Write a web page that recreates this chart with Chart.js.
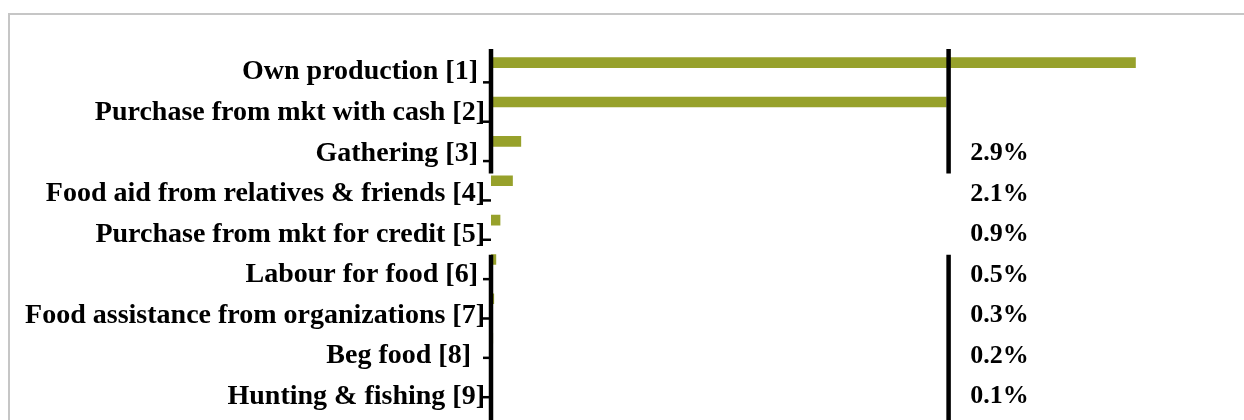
<!DOCTYPE html>
<html>
<head>
<meta charset="utf-8">
<script src="https://cdn.jsdelivr.net/npm/chart.js@4.4.1/dist/chart.umd.min.js"></script>
<style>
  html, body { margin: 0; padding: 0; background: #ffffff; overflow: hidden; }
  #frame { position: absolute; left: 8px; top: 13px; width: 1400px; height: 600px;
           border: 2px solid #c6c6c6; box-sizing: border-box; }
  #wrap { position: absolute; left: 0; top: 0; width: 1244px; height: 420px; }
</style>
</head>
<body>
<div id="frame"></div>
<div id="wrap"><canvas id="c"></canvas></div>
<script>
// ---- data ----
const categories = [
  'Own production [1] ',
  'Purchase from mkt with cash [2]',
  'Gathering [3] ',
  'Food aid from relatives & friends [4]',
  'Purchase from mkt for credit [5]',
  'Labour for food [6] ',
  'Food assistance from organizations [7]',
  'Beg food [8]  ',
  'Hunting & fishing [9]'
];
const shares = [62.0, 43.8, 2.9, 2.1, 0.9, 0.5, 0.3, 0.2, 0.1];
const valueLabels = [null, null, '2.9%', '2.1%', '0.9%', '0.5%', '0.3%', '0.2%', '0.1%'];
const refLineValue = 44;      // second vertical rule (value-axis units)
const brokenRows = [3, 4];    // rows where the vertical rules are interrupted
const valueLabelAt = 48.9;    // where the % labels sit on the value axis
const axisMax = 70;
// label row axis range (label rows are spaced slightly wider than the bars)
const labelAxisMin = -0.72, labelAxisMax = 8.012;

// ---- styles ----
const barColor = '#97a12b';
const labelFont = { family: "'Liberation Serif', 'Times New Roman', serif", size: 28, weight: 'bold' };
const valueFont = "bold 26px 'Liberation Serif', 'Times New Roman', serif";

const decorations = {
  id: 'decorations',
  afterDatasetsDraw(chart) {
    const ctx = chart.ctx;
    const x = chart.scales.x, y = chart.scales.y, yl = chart.scales.yl;
    const band = Math.abs(y.getPixelForValue(1) - y.getPixelForValue(0));
    const x0 = x.getPixelForValue(0);
    const xr = x.getPixelForValue(refLineValue);
    ctx.save();
    ctx.strokeStyle = '#000';
    // tick marks at category boundaries
    ctx.lineWidth = 2.5;
    for (let i = 0; i < categories.length; i++) {
      const ty = y.getPixelForValue(i) + band / 2;
      ctx.beginPath();
      ctx.moveTo(x0 - 8, ty);
      ctx.lineTo(x0, ty);
      ctx.stroke();
    }
    // broken vertical rules
    const top = yl.getPixelForValue(-0.57);
    const gapStart = yl.getPixelForValue(brokenRows[0] - 0.5);
    const gapEnd = yl.getPixelForValue(brokenRows[brokenRows.length - 1] + 0.5);
    const bottom = chart.height;
    ctx.lineWidth = 4.5;
    [x0, xr].forEach(px => {
      ctx.beginPath();
      ctx.moveTo(px, top); ctx.lineTo(px, gapStart);
      ctx.moveTo(px, gapEnd); ctx.lineTo(px, bottom);
      ctx.stroke();
    });
    // value labels
    ctx.fillStyle = '#000';
    ctx.font = valueFont;
    ctx.textAlign = 'center';
    ctx.textBaseline = 'middle';
    const lx = x.getPixelForValue(valueLabelAt);
    valueLabels.forEach((t, i) => {
      if (t) ctx.fillText(t, lx, yl.getPixelForValue(i));
    });
    ctx.restore();
  }
};

new Chart(document.getElementById('c'), {
  type: 'bar',
  data: {
    labels: categories,
    datasets: [{
      data: shares,
      backgroundColor: barColor,
      borderWidth: 0,
      categoryPercentage: 1,
      barPercentage: 0.27
    }]
  },
  options: {
    indexAxis: 'y',
    responsive: true,
    maintainAspectRatio: false,
    animation: false,
    layout: { padding: { top: 43, bottom: 19, left: 0, right: 25 } },
    plugins: { legend: { display: false }, tooltip: { enabled: false } },
    scales: {
      x: { display: false, min: 0, max: axisMax },
      y: { display: false },
      yl: {
        type: 'linear',
        position: 'left',
        reverse: true,
        offset: false,
        min: labelAxisMin,
        max: labelAxisMax,
        grid: { display: false, drawTicks: false, offset: false },
        border: { display: false },
        afterBuildTicks(scale) { scale.ticks = categories.map((_, i) => ({ value: i })); },
        ticks: {
          color: '#000', font: labelFont, padding: 6, autoSkip: false,
          callback: (v) => categories[v]
        },
        afterFit(scale) { scale.width = 491; }
      }
    }
  },
  plugins: [decorations]
});
</script>
</body>
</html>
